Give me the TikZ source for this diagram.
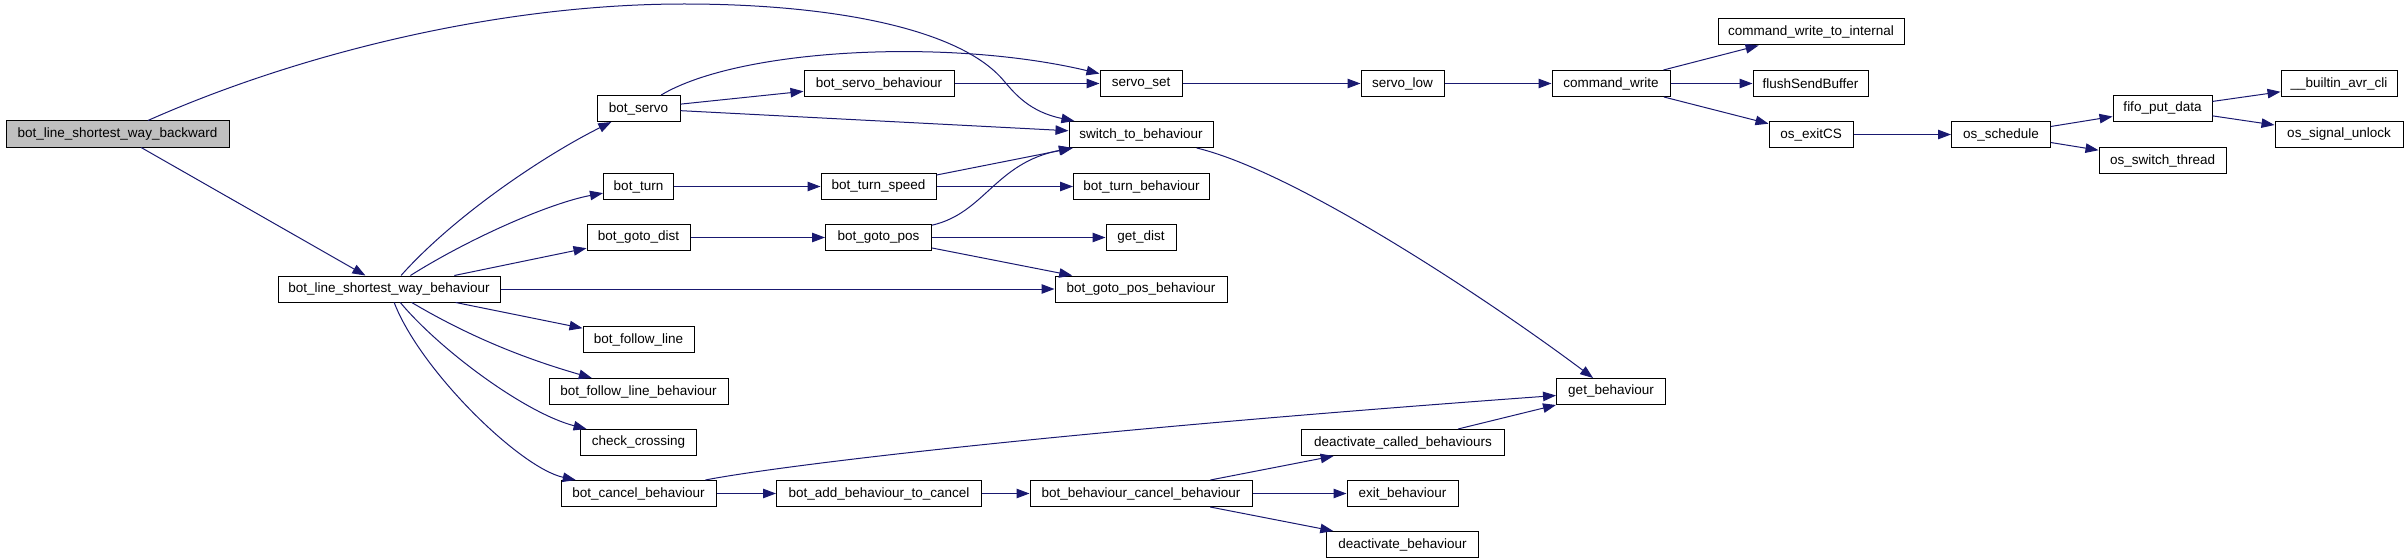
\documentclass[tikz,border=0pt]{standalone}
\usepackage{fontspec}
\setmainfont{Liberation Sans}
\usetikzlibrary{arrows.meta}
\definecolor{edgec}{HTML}{191970}
\definecolor{rootfill}{HTML}{BFBFBF}
\begin{document}
\begin{tikzpicture}[x=1pt,y=-1pt,
  fn/.style={draw=black,line width=1pt,fill=white,minimum height=26pt,inner sep=1pt,font=\fontsize{13.5}{16}\selectfont},
  call/.style={draw=edgec,line width=1pt,-{Triangle[length=13pt,width=9.5pt]}}]
\useasboundingbox (0,0) rectangle (2408,559);
% nodes
\node[fn,fill=rootfill,minimum width=223pt] (backward) at (117.5,134) {bot\_line\_shortest\_way\_backward};
\node[fn,minimum width=222pt] (beh) at (389,289) {bot\_line\_shortest\_way\_behaviour};
\node[fn,minimum width=83pt] (servo) at (638.5,108.5) {bot\_servo};
\node[fn,minimum width=70pt] (turn) at (638.5,186.5) {bot\_turn};
\node[fn,minimum width=103pt] (gotodist) at (638.5,237.5) {bot\_goto\_dist};
\node[fn,minimum width=111pt] (follow) at (638.5,339.5) {bot\_follow\_line};
\node[fn,minimum width=179pt] (followbeh) at (638.5,391.5) {bot\_follow\_line\_behaviour};
\node[fn,minimum width=116pt] (crossing) at (638.5,442.5) {check\_crossing};
\node[fn,minimum width=155pt] (cancel) at (638.5,493.5) {bot\_cancel\_behaviour};
\node[fn,minimum width=150pt] (servobeh) at (879,83.5) {bot\_servo\_behaviour};
\node[fn,minimum width=82pt] (servoset) at (1141,83.5) {servo\_set};
\node[fn,minimum width=83pt] (servolow) at (1402.5,83.5) {servo\_low};
\node[fn,minimum width=118pt] (cmdwrite) at (1611,83.5) {command\_write};
\node[fn,minimum width=144pt] (switch) at (1141,134.5) {switch\_to\_behaviour};
\node[fn,minimum width=115pt] (turnspeed) at (878.5,186.5) {bot\_turn\_speed};
\node[fn,minimum width=136pt] (turnbeh) at (1141.5,186.5) {bot\_turn\_behaviour};
\node[fn,minimum width=106pt] (gotopos) at (878.5,237.5) {bot\_goto\_pos};
\node[fn,minimum width=70pt] (getdist) at (1141,237.5) {get\_dist};
\node[fn,minimum width=172pt] (gotoposbeh) at (1141,289) {bot\_goto\_pos\_behaviour};
\node[fn,minimum width=109pt] (getbeh) at (1611,391.5) {get\_behaviour};
\node[fn,minimum width=203pt] (deactcalled) at (1403,442.5) {deactivate\_called\_behaviours};
\node[fn,minimum width=205pt] (addcancel) at (879,493.5) {bot\_add\_behaviour\_to\_cancel};
\node[fn,minimum width=222pt] (bcancel) at (1141,493.5) {bot\_behaviour\_cancel\_behaviour};
\node[fn,minimum width=111pt] (exitbeh) at (1402.5,493.5) {exit\_behaviour};
\node[fn,minimum width=152pt] (deactbeh) at (1402.5,544.5) {deactivate\_behaviour};
\node[fn,minimum width=186pt] (cwti) at (1811,32) {command\_write\_to\_internal};
\node[fn,minimum width=115pt] (flush) at (1810.5,83.5) {flushSendBuffer};
\node[fn,minimum width=84pt] (exitcs) at (1811,134.5) {os\_exitCS};
\node[fn,minimum width=99pt] (sched) at (2001,134.5) {os\_schedule};
\node[fn,minimum width=99pt] (fifo) at (2162.5,108.5) {fifo\_put\_data};
\node[fn,minimum width=127pt] (switchthread) at (2162.5,160.5) {os\_switch\_thread};
\node[fn,minimum width=116pt] (cli) at (2339,83.5) {\_\_builtin\_avr\_cli};
\node[fn,minimum width=128pt] (unlock) at (2339,134.5) {os\_signal\_unlock};
% edges
\draw[call] (backward) .. controls (300,53) and (500,4) .. (684,4) .. controls (830,4) and (960,28) .. (1004,81) .. controls (1015,94) and (1030,112) .. (switch);
\draw[call] (backward) -- (beh);
\draw[call] (beh) .. controls (455,215) and (545,155) .. (servo);
\draw[call] (beh) .. controls (470,238) and (550,203) .. (turn);
\draw[call] (beh) -- (gotodist);
\draw[call] (beh) -- (gotoposbeh);
\draw[call] (beh) -- (follow);
\draw[call] (beh) .. controls (480,343) and (540,363) .. (followbeh);
\draw[call] (beh) .. controls (440,350) and (525,413) .. (crossing);
\draw[call] (beh) .. controls (420,370) and (520,468) .. (cancel);
\draw[call] (servo) .. controls (740,48) and (950,38) .. (servoset);
\draw[call] (servo) -- (servobeh);
\draw[call] (servo) -- (switch);
\draw[call] (servobeh) -- (servoset);
\draw[call] (servoset) -- (servolow);
\draw[call] (servolow) -- (cmdwrite);
\draw[call] (cmdwrite) -- (cwti);
\draw[call] (cmdwrite) -- (flush);
\draw[call] (cmdwrite) -- (exitcs);
\draw[call] (exitcs) -- (sched);
\draw[call] (sched) -- (fifo);
\draw[call] (sched) -- (switchthread);
\draw[call] (fifo) -- (cli);
\draw[call] (fifo) -- (unlock);
\draw[call] (switch) .. controls (1300,173) and (1500,308) .. (getbeh);
\draw[call] (turn) -- (turnspeed);
\draw[call] (turnspeed) -- (switch);
\draw[call] (turnspeed) -- (turnbeh);
\draw[call] (gotodist) -- (gotopos);
\draw[call] (gotopos) .. controls (985,213) and (995,163) .. (switch);
\draw[call] (gotopos) -- (getdist);
\draw[call] (gotopos) -- (gotoposbeh);
\draw[call] (cancel) .. controls (755,470) and (1000,436) .. (getbeh);
\draw[call] (cancel) -- (addcancel);
\draw[call] (addcancel) -- (bcancel);
\draw[call] (bcancel) -- (deactcalled);
\draw[call] (bcancel) -- (exitbeh);
\draw[call] (bcancel) -- (deactbeh);
\draw[call] (deactcalled) -- (getbeh);
\end{tikzpicture}
\end{document}
